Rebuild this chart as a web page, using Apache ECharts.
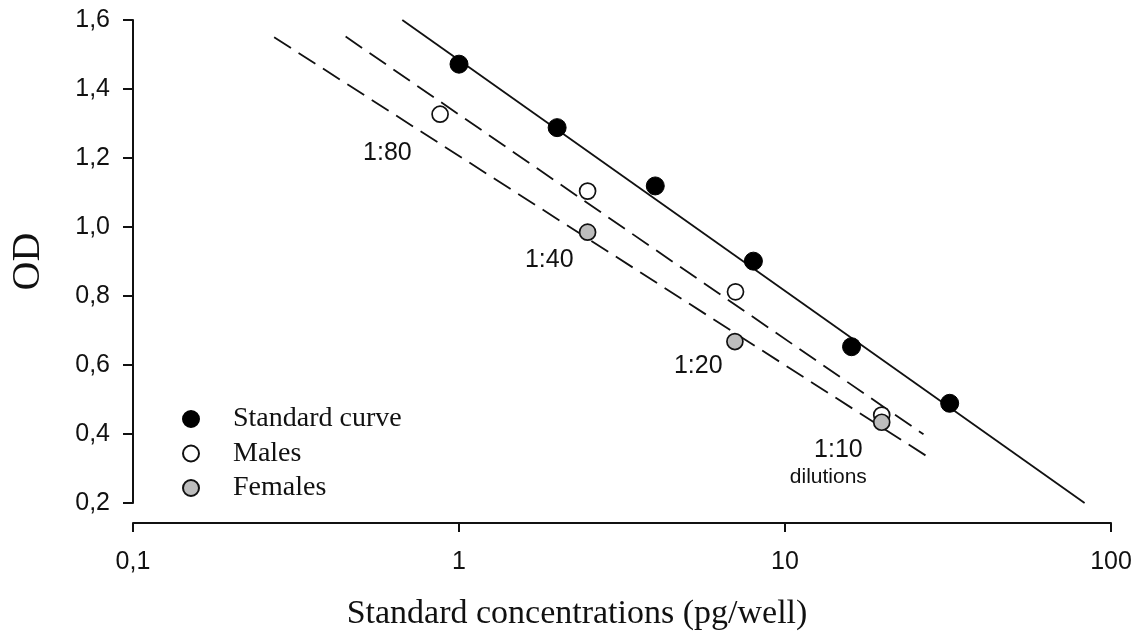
<!DOCTYPE html>
<html>
<head>
<meta charset="utf-8">
<script src="https://cdn.jsdelivr.net/npm/echarts@6/dist/echarts.min.js"></script>
<style>
html,body{margin:0;padding:0;background:#fff;}
#chart{width:1138px;height:643px;}
</style>
</head>
<body>
<div id="chart"></div>
<script>
// ---- data ----
const stdX = [1, 2, 4, 8, 16, 32];
const stdY = [1.472, 1.288, 1.119, 0.901, 0.653, 0.489];
const malesX = [0.875, 2.48, 7.05, 19.8];
const malesY = [1.327, 1.104, 0.812, 0.455];
const femalesX = [2.48, 7.02, 19.8];
const femalesY = [0.985, 0.668, 0.434];
// regression lines (end points)
const stdFitX = [0.67, 83];
const stdFitY = [1.60, 0.20];
const malesFitX = [0.449, 26.6];
const malesFitY = [1.552, 0.399];
const femalesFitX = [0.271, 27.6];
const femalesFitY = [1.550, 0.332];
// dilution annotations
const annText = ['1:80', '1:40', '1:20', '1:10', 'dilutions'];
const annX = [0.603, 1.892, 5.42, 14.58, 13.58];
const annY = [1.2145, 0.9035, 0.598, 0.354, 0.275];
// ticks
const xTicks = ['0,1', '1', '10', '100'];
const yTickMin = 0.2, yTickMax = 1.6, yTickStep = 0.2;
const seriesNames = ['Standard curve', 'Males', 'Females'];

const pairs = (xs, ys) => xs.map((x, i) => [x, ys[i]]);

const chart = echarts.init(document.getElementById('chart'), null, {renderer: 'canvas'});
const SANS = '"Liberation Sans", Arial, sans-serif';
const SERIF = '"Liberation Serif", "Times New Roman", serif';

const fitLine = (name, xs, ys, dashed) => ({
  name: name, type: 'line', data: pairs(xs, ys), showSymbol: false, symbol: 'none',
  silent: true, z: 1,
  lineStyle: {color: '#111', width: 1.8, type: dashed ? [20, 9] : 'solid'}
});

chart.setOption({
  animation: false,
  backgroundColor: '#fff',
  grid: {left: 132, right: 27, top: 20, bottom: 140, containLabel: false},
  xAxis: {
    type: 'log', logBase: 10, min: 0.1, max: 100, offset: 20,
    name: 'Standard concentrations (pg/well)', nameLocation: 'middle', nameGap: 74,
    nameTextStyle: {fontFamily: SERIF, fontSize: 34, color: '#111', padding: [0, 90, 0, 0]},
    axisLine: {show: true, lineStyle: {color: '#111', width: 2}},
    axisTick: {show: true, inside: false, length: 9, lineStyle: {color: '#111', width: 2}},
    minorTick: {show: false},
    splitLine: {show: false},
    axisLabel: {
      fontFamily: SANS, fontSize: 25, color: '#111', margin: 27,
      formatter: v => xTicks[Math.round(Math.log10(v)) + 1]
    }
  },
  yAxis: {
    type: 'value', min: yTickMin, max: yTickMax, interval: yTickStep,
    name: 'OD', nameLocation: 'middle', nameGap: 85, nameRotate: 90,
    nameTextStyle: {fontFamily: SERIF, fontSize: 40, color: '#111'},
    axisLine: {show: true, lineStyle: {color: '#111', width: 2}},
    axisTick: {show: true, inside: false, length: 10, lineStyle: {color: '#111', width: 2}},
    splitLine: {show: false},
    axisLabel: {
      fontFamily: SANS, fontSize: 25, color: '#111', margin: 23,
      formatter: v => v.toFixed(1).replace('.', ',')
    }
  },
  legend: {
    data: seriesNames,
    orient: 'vertical', left: 177, top: 400,
    itemWidth: 16, itemHeight: 16, itemGap: 6.5,
    icon: 'circle',
    formatter: '{t|{name}}',
    textStyle: {
      color: '#111',
      rich: {t: {fontFamily: SERIF, fontSize: 28, lineHeight: 28, color: '#111', padding: [0, 0, 0, 29]}}
    },
    selectedMode: false
  },
  series: [
    fitLine('fit-standard', stdFitX, stdFitY, false),
    fitLine('fit-males', malesFitX, malesFitY, true),
    fitLine('fit-females', femalesFitX, femalesFitY, true),
    {
      name: seriesNames[0], type: 'scatter', data: pairs(stdX, stdY), symbol: 'circle', symbolSize: 18, z: 3,
      itemStyle: {color: '#000', borderColor: '#000', borderWidth: 1, opacity: 1}
    },
    {
      name: seriesNames[1], type: 'scatter', data: pairs(malesX, malesY), symbol: 'circle', symbolSize: 16, z: 3,
      itemStyle: {color: '#fff', borderColor: '#111', borderWidth: 1.7, opacity: 1}
    },
    {
      name: seriesNames[2], type: 'scatter', data: pairs(femalesX, femalesY), symbol: 'circle', symbolSize: 16, z: 4,
      itemStyle: {color: '#bdbdbd', borderColor: '#111', borderWidth: 1.7, opacity: 1}
    },
    {
      name: 'annotations', type: 'scatter', symbolSize: 0, silent: true, z: 5,
      itemStyle: {color: '#000', opacity: 1},
      label: {show: true, position: 'inside', fontFamily: SANS, fontSize: 25, color: '#111',
              textBorderWidth: 0, opacity: 1, formatter: p => p.name},
      emphasis: {disabled: true},
      data: annText.map((t, i) => ({
        name: t, value: [annX[i], annY[i]],
        label: t === 'dilutions' ? {fontSize: 21, color: '#111'} : {color: '#111'}
      }))
    }
  ]
});
</script>
</body>
</html>
